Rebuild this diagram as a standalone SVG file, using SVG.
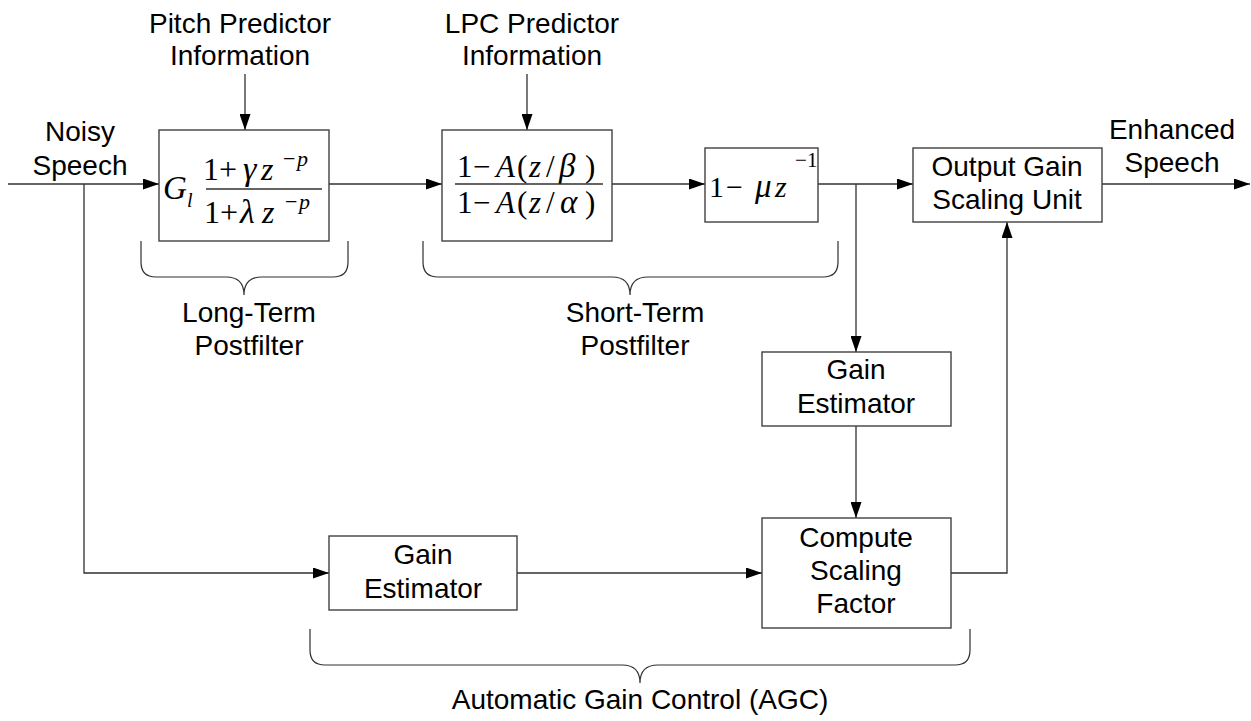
<svg xmlns="http://www.w3.org/2000/svg" width="1251" height="721" viewBox="0 0 1251 721">
  <style>
    .box { fill: #ffffff; stroke: #404040; stroke-width: 1.4; }
    .wire { fill: none; stroke: #303030; stroke-width: 1.3; }
    .brace { fill: none; stroke: #303030; stroke-width: 1.2; }
    .lbl { font-family: "Liberation Sans", Arial, sans-serif; font-size: 28px; fill: #000; text-anchor: middle; }
    .m { font-family: "Liberation Serif", "Times New Roman", serif; fill: #000; }
    .mi { font-style: italic; }
  </style>
  <defs>
    <marker id="arrow" viewBox="0 0 16 11" refX="16" refY="5.5" markerWidth="16" markerHeight="11" markerUnits="userSpaceOnUse" orient="auto">
      <path d="M0,0 L16,5.5 L0,11 z" fill="#000"/>
    </marker>
  </defs>

  <!-- side labels -->
  <g id="labels">
    <text class="lbl" x="80" y="141">Noisy</text>
    <text class="lbl" x="80" y="175">Speech</text>
    <text class="lbl" x="240" y="33">Pitch Predictor</text>
    <text class="lbl" x="240" y="65">Information</text>
    <text class="lbl" x="532" y="33">LPC Predictor</text>
    <text class="lbl" x="532" y="65">Information</text>
    <text class="lbl" x="1172" y="139">Enhanced</text>
    <text class="lbl" x="1172" y="172">Speech</text>
  </g>

  <!-- connectors -->
  <g id="connectors">
    <path class="wire" d="M8,184 H159" marker-end="url(#arrow)"/>
    <path class="wire" d="M84,184 V573 H329" marker-end="url(#arrow)"/>
    <path class="wire" d="M245,74 V130" marker-end="url(#arrow)"/>
    <path class="wire" d="M527,74 V130" marker-end="url(#arrow)"/>
    <path class="wire" d="M329,184 H442" marker-end="url(#arrow)"/>
    <path class="wire" d="M612,184 H705" marker-end="url(#arrow)"/>
    <path class="wire" d="M818,184 H913" marker-end="url(#arrow)"/>
    <path class="wire" d="M856,184 V352" marker-end="url(#arrow)"/>
    <path class="wire" d="M856,426 V518" marker-end="url(#arrow)"/>
    <path class="wire" d="M517,573 H762" marker-end="url(#arrow)"/>
    <path class="wire" d="M951,573 H1007 V222" marker-end="url(#arrow)"/>
    <path class="wire" d="M1102,184 H1250" marker-end="url(#arrow)"/>
  </g>

  <!-- long-term postfilter: G_l (1 + γz^-p)/(1 + λz^-p) -->
  <g id="long-term-filter">
    <rect class="box" x="159" y="130" width="170" height="111"/>
    <text class="m mi" x="163" y="199" font-size="33">G</text>
    <text class="m mi" x="187" y="207" font-size="20">l</text>
    <text class="m" y="180" font-size="32"><tspan x="203">1</tspan><tspan x="219">+</tspan><tspan class="mi" x="243" font-size="34">γ</tspan><tspan class="mi" x="261">z</tspan></text>
    <text class="m" y="166" font-size="22"><tspan x="283">−</tspan><tspan class="mi" x="297">p</tspan></text>
    <line class="wire" x1="206" y1="189" x2="322" y2="189"/>
    <text class="m" y="223" font-size="32"><tspan x="204">1</tspan><tspan x="220">+</tspan><tspan class="mi" x="240" font-size="34">λ</tspan><tspan class="mi" x="262">z</tspan></text>
    <text class="m" y="209" font-size="22"><tspan x="285">−</tspan><tspan class="mi" x="299">p</tspan></text>
  </g>

  <!-- short-term postfilter: (1 - A(z/β))/(1 - A(z/α)) -->
  <g id="short-term-filter">
    <rect class="box" x="442" y="130" width="170" height="111"/>
    <text class="m" y="177" font-size="31"><tspan x="457">1</tspan><tspan x="473">−</tspan><tspan class="mi" x="496">A</tspan><tspan x="517">(</tspan><tspan class="mi" x="529">z</tspan><tspan x="546">/</tspan><tspan class="mi" x="559" font-size="33">β</tspan><tspan x="585">)</tspan></text>
    <line class="wire" x1="455" y1="184" x2="603" y2="184"/>
    <text class="m" y="213" font-size="31"><tspan x="457">1</tspan><tspan x="473">−</tspan><tspan class="mi" x="496">A</tspan><tspan x="517">(</tspan><tspan class="mi" x="529">z</tspan><tspan x="546">/</tspan><tspan class="mi" x="560" font-size="33">α</tspan><tspan x="585">)</tspan></text>
  </g>

  <!-- tilt compensation: 1 - μz^-1 -->
  <g id="tilt-filter">
    <rect class="box" x="705" y="148" width="113" height="74"/>
    <text class="m" y="197" font-size="30"><tspan x="709">1</tspan><tspan x="726">−</tspan><tspan class="mi" x="755" font-size="33">μ</tspan><tspan class="mi" x="775">z</tspan></text>
    <text class="m" y="167" font-size="21"><tspan x="795">−</tspan><tspan x="807">1</tspan></text>
  </g>

  <g id="output-gain">
    <rect class="box" x="913" y="148" width="189" height="74"/>
    <text class="lbl" x="1007" y="176">Output Gain</text>
    <text class="lbl" x="1007" y="209">Scaling Unit</text>
  </g>

  <g id="gain-estimator-out">
    <rect class="box" x="762" y="352" width="189" height="74"/>
    <text class="lbl" x="856" y="379">Gain</text>
    <text class="lbl" x="856" y="413">Estimator</text>
  </g>

  <g id="gain-estimator-in">
    <rect class="box" x="329" y="536" width="188" height="74"/>
    <text class="lbl" x="423" y="564">Gain</text>
    <text class="lbl" x="423" y="598">Estimator</text>
  </g>

  <g id="compute-scaling">
    <rect class="box" x="762" y="518" width="189" height="110"/>
    <text class="lbl" x="856" y="547">Compute</text>
    <text class="lbl" x="856" y="580">Scaling</text>
    <text class="lbl" x="856" y="613">Factor</text>
  </g>

  <!-- braces with captions -->
  <g id="long-term-brace">
    <path class="brace" d="M141,241 V262 Q141,277 156,277 H226 Q244,277 244,295 Q244,277 262,277 H333 Q348,277 348,262 V241"/>
    <text class="lbl" x="249" y="322">Long-Term</text>
    <text class="lbl" x="249" y="355">Postfilter</text>
  </g>

  <g id="short-term-brace">
    <path class="brace" d="M423,241 V262 Q423,277 438,277 H612 Q630,277 630,295 Q630,277 648,277 H823 Q838,277 838,262 V241"/>
    <text class="lbl" x="635" y="322">Short-Term</text>
    <text class="lbl" x="635" y="355">Postfilter</text>
  </g>

  <g id="agc-brace">
    <path class="brace" d="M310,629 V650 Q310,665 325,665 H622 Q640,665 640,683 Q640,665 658,665 H955 Q970,665 970,650 V629"/>
    <text class="lbl" x="640" y="709">Automatic Gain Control (AGC)</text>
  </g>
</svg>
